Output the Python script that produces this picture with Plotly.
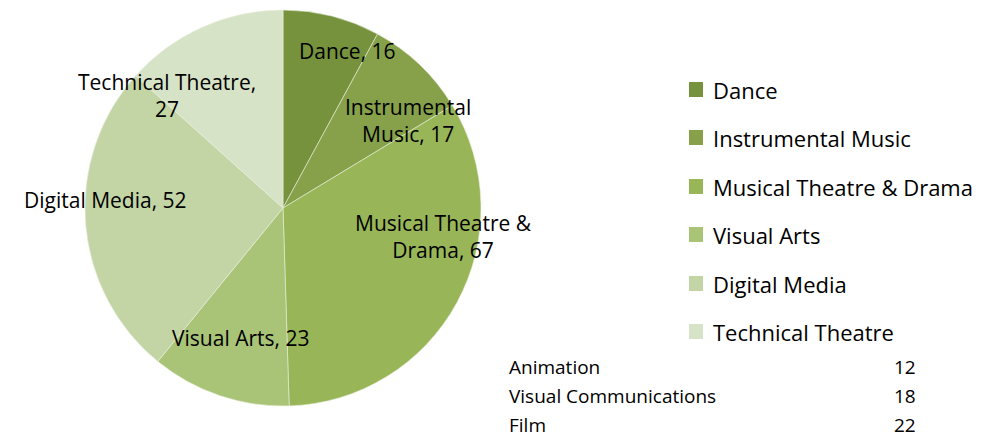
import plotly.graph_objects as go

categories = ["Dance", "Instrumental Music", "Musical Theatre & Drama",
              "Visual Arts", "Digital Media", "Technical Theatre"]
values = [16, 17, 67, 23, 52, 27]
colors = ["#76923C", "#86A14A", "#98B658", "#A9C477", "#C3D5A5", "#D7E3C6"]
label_texts = ["Dance, 16", "Instrumental<br>Music, 17", "Musical Theatre &<br>Drama, 67",
               "Visual Arts, 23", "Digital Media, 52", "Technical Theatre,<br>27"]
sub_names = ["Animation", "Visual Communications", "Film"]
sub_values = [12, 18, 22]

W, H = 993, 437
OFF = 8  # page body margin
FONT = "Open Sans"


def px(x):
    return (x - OFF) / W


def py(y):
    return 1 - (y - OFF) / H


fig = go.Figure()
fig.add_trace(go.Pie(
    labels=categories, values=values, sort=False, direction="clockwise", rotation=0,
    marker=dict(colors=colors, line=dict(color="#E8EEDC", width=0.6)),
    textinfo="none", hoverinfo="label+value", showlegend=False,
    domain=dict(x=[px(85), px(481)], y=[py(406), py(10)]),
))

# data labels (pixel positions of label centres)
label_pos = [(347, 51), (408, 121), (443, 236), (240, 338), (105, 200), (167, 95)]
for t, (lx, ly) in zip(label_texts, label_pos):
    fig.add_annotation(x=px(lx), y=py(ly), xref="paper", yref="paper", text=t,
                       showarrow=False, xanchor="center", yanchor="middle",
                       font=dict(family=FONT, size=21, color="#000000"))

# custom legend
leg_y = [90, 138, 187, 235, 284, 332]
for c, name, ly in zip(colors, categories, leg_y):
    fig.add_shape(type="rect", xref="paper", yref="paper",
                  x0=px(689), x1=px(703), y0=py(ly + 7), y1=py(ly - 8),
                  fillcolor=c, line=dict(width=0))
    fig.add_annotation(x=px(711), y=py(ly), xref="paper", yref="paper", text=name,
                       showarrow=False, xanchor="left", yanchor="middle",
                       font=dict(family=FONT, size=22, color="#000000"))

# sub-table for Digital Media
tab_y = [367, 396, 425]
for n, v, ty in zip(sub_names, sub_values, tab_y):
    fig.add_annotation(x=px(507), y=py(ty), xref="paper", yref="paper", text=n,
                       showarrow=False, xanchor="left", yanchor="middle",
                       font=dict(family=FONT, size=19, color="#000000"))
    fig.add_annotation(x=px(918), y=py(ty), xref="paper", yref="paper", text=str(v),
                       showarrow=False, xanchor="right", yanchor="middle",
                       font=dict(family=FONT, size=19, color="#000000"))

fig.update_layout(width=W, height=H, margin=dict(l=0, r=0, t=0, b=0),
                  paper_bgcolor="white", plot_bgcolor="white")
fig.write_html("out.html")
